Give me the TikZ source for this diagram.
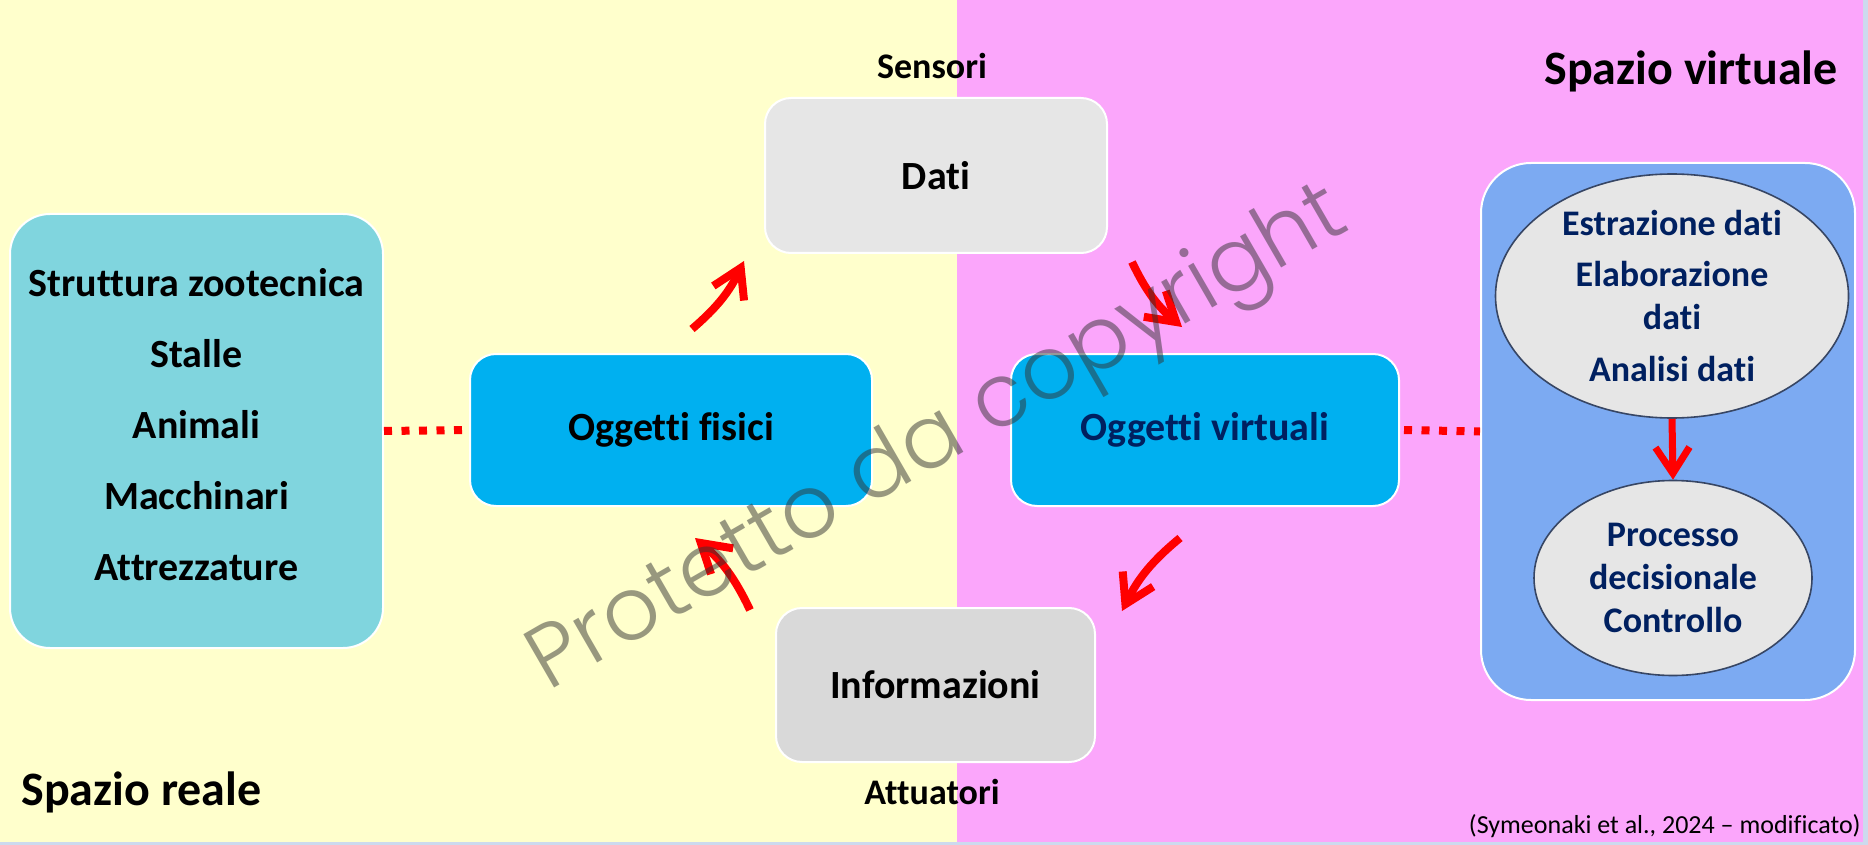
\documentclass[tikz,border=0pt]{standalone}
\usepackage{fontspec}
\setmainfont{Carlito}[Ligatures=NoCommon]
\newfontfamily\wmfont{Poppins Light}
\usetikzlibrary{arrows.meta,shapes.geometric}
\definecolor{yellowbg}{RGB}{255,255,204}
\definecolor{pinkbg}{RGB}{251,166,251}
\definecolor{tealbox}{RGB}{128,213,222}
\definecolor{cyanbox}{RGB}{0,176,240}
\definecolor{datigray}{RGB}{230,230,230}
\definecolor{infogray}{RGB}{217,217,217}
\definecolor{bluebox}{RGB}{124,170,242}
\definecolor{ellfill}{RGB}{230,230,230}
\definecolor{ellline}{RGB}{55,70,100}
\definecolor{navy}{RGB}{0,32,96}
\definecolor{wmgray}{RGB}{50,50,50}
\definecolor{edgeblue}{RGB}{205,218,238}
\begin{document}
\begin{tikzpicture}[x=0.5pt,y=-0.5pt,
  rbox/.style={draw=white, line width=1pt, rounded corners=#1, inner sep=0pt, align=center,
    font=\bfseries\fontsize{20}{24}\selectfont},
  ell/.style={ellipse, draw=ellline, line width=0.8pt, fill=ellfill, inner sep=0pt, align=center,
    text=navy, font=\bfseries\fontsize{18}{21.5}\selectfont},
  lbl/.style={inner sep=0pt, font=\bfseries\fontsize{18}{21}\selectfont},
  title/.style={inner sep=0pt, font=\bfseries\fontsize{24}{28}\selectfont},
  dots/.style={draw=red, line width=4pt, dash pattern=on 4pt off 4.75pt},
  redarr/.style={draw=red, line width=4pt, -{Straight Barb[length=14pt,width=17pt]}},
]
\useasboundingbox (0,0) rectangle (1868,845);
% backgrounds
\fill[yellowbg] (0,0) rectangle (957,845);
\fill[pinkbg] (957,0) rectangle (1863,845);
\fill[edgeblue] (0,842) rectangle (1868,845);
\fill[edgeblue] (1863,0) rectangle (1868,845);

% left box
\node[rbox=20pt, fill=tealbox, minimum width=186.5pt, minimum height=217pt] (real) at (196.5,431) {};
\node[inner sep=0pt, align=center, font=\bfseries\fontsize{20}{35.5}\selectfont] (realtxt) at (196.5,425)
  {Struttura zootecnica\\Stalle\\Animali\\Macchinari\\Attrezzature};

% central boxes
\node[rbox=13pt, fill=cyanbox, minimum width=201pt, minimum height=76pt] (fis) at (671,430) {Oggetti fisici};
\node[rbox=13pt, fill=cyanbox, minimum width=194pt, minimum height=76pt, text=navy] (virt) at (1205,430) {Oggetti virtuali};
\node[rbox=13pt, fill=datigray, minimum width=171pt, minimum height=77.5pt] (dati) at (936,175.5) {Dati};
\node[rbox=13pt, fill=infogray, minimum width=159.5pt, minimum height=77pt] (info) at (935.5,685) {Informazioni};

% labels
\node[lbl] (sens) at (932,66) {Sensori};
\node[lbl] (attu) at (932,792) {Attuatori};
\node[title, anchor=east] (sv) at (1838,71) {Spazio virtuale};
\node[title, anchor=west] (sr) at (21,792) {Spazio reale};
\node[inner sep=0pt, anchor=east, font=\fontsize{13}{15}\selectfont] (cit) at (1861,826) {(Symeonaki et al., 2024 -- modificato)};

% right big box
\node[rbox=25pt, fill=bluebox, minimum width=187pt, minimum height=268.5pt] (vbox) at (1668,431.5) {};
\node[ell, minimum width=176.5pt, minimum height=117pt] (e1) at (1672,296)
  {Estrazione dati\\[4.5pt]Elaborazione\\dati\\[4.5pt]Analisi dati};
\node[ell, minimum width=139pt, minimum height=97.5pt] (e2) at (1673,578)
  {Processo\\decisionale\\Controllo};

% connectors
\draw[dots] (real.east) -- (fis.west);
\draw[dots] ([xshift=2pt]virt.east) -- (vbox.west);
\draw[draw=red, line width=3.5pt, -{Straight Barb[length=13pt,width=17pt]}] (e1.south) -- (e2.north);

\coordinate (a1s) at (692,329);
\coordinate (a1e) at (744,261);
\coordinate (a2s) at (1132,262);
\coordinate (a2e) at (1182,327);
\coordinate (a3s) at (1180,538);
\coordinate (a3e) at (1122,611);
\coordinate (a4s) at (750,610);
\coordinate (a4e) at (695,538);
\draw[redarr] (a1s) to[bend right=12] (a1e);
\draw[redarr] (a2s) to[bend right=12] (a2e);
\draw[redarr] (a3s) to[bend right=12] (a3e);
\draw[redarr] (a4s) to[bend right=12] (a4e);

% watermark
\node[rotate=30, anchor=base, inner sep=0pt, text=wmgray, text opacity=0.5,
  font=\wmfont\fontsize{44}{44}\selectfont] (wm) at (950,460) {Protetto da copyright};
\end{tikzpicture}
\end{document}
